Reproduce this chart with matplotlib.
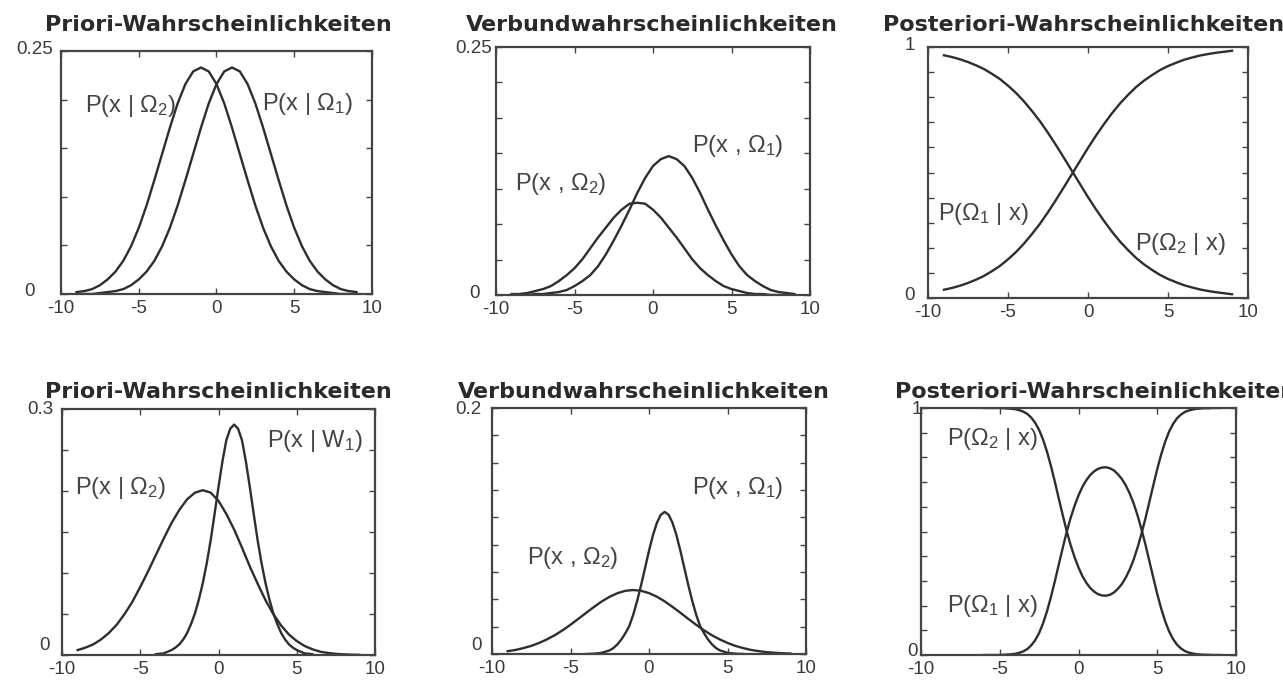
import numpy as np
import matplotlib
matplotlib.use("Agg")
import matplotlib.pyplot as plt

plt.rcParams["font.family"] = ["Liberation Sans", "DejaVu Sans"]
plt.rcParams["mathtext.fontset"] = "custom"
plt.rcParams["mathtext.rm"] = "Liberation Sans"
plt.rcParams["mathtext.it"] = "Liberation Sans"

W, H = 1283, 681

x = np.arange(-9, 9.5, 0.5)            # wide curves, every 0.5
x_narrow = np.arange(-4, 6.25, 0.25)   # narrow peaks, every 0.25
x_br = np.arange(-6, 9.25, 0.25)       # lower right posteriors, every 0.25

# --- top row: equal variances ---
tl_cond2 = [0.002, 0.003, 0.005, 0.009, 0.015, 0.023, 0.034, 0.049, 0.068, 0.091,
            0.117, 0.144, 0.171, 0.196, 0.216, 0.229, 0.233, 0.229, 0.216, 0.196,
            0.171, 0.144, 0.117, 0.091, 0.068, 0.049, 0.034, 0.023, 0.015, 0.009,
            0.005, 0.003, 0.002, 0.001, 0.000, 0.000, 0.000]
tl_cond1 = [0.000, 0.000, 0.000, 0.001, 0.002, 0.003, 0.005, 0.009, 0.015, 0.023,
            0.034, 0.049, 0.068, 0.091, 0.117, 0.144, 0.171, 0.196, 0.216, 0.229,
            0.233, 0.229, 0.216, 0.196, 0.171, 0.144, 0.117, 0.091, 0.068, 0.049,
            0.034, 0.023, 0.015, 0.009, 0.005, 0.003, 0.002]

tm_joint2 = [0.001, 0.001, 0.002, 0.004, 0.006, 0.009, 0.014, 0.020, 0.027, 0.036,
             0.047, 0.058, 0.068, 0.078, 0.086, 0.092, 0.093, 0.092, 0.086, 0.078,
             0.068, 0.058, 0.047, 0.036, 0.027, 0.020, 0.014, 0.009, 0.006, 0.004,
             0.002, 0.001, 0.001, 0.000, 0.000, 0.000, 0.000]
tm_joint1 = [0.000, 0.000, 0.000, 0.001, 0.001, 0.002, 0.003, 0.005, 0.009, 0.014,
             0.020, 0.029, 0.041, 0.055, 0.070, 0.086, 0.103, 0.118, 0.130, 0.137,
             0.140, 0.137, 0.130, 0.118, 0.103, 0.086, 0.070, 0.055, 0.041, 0.029,
             0.020, 0.014, 0.009, 0.005, 0.003, 0.002, 0.001]

tr_post1 = [0.033, 0.040, 0.049, 0.060, 0.073, 0.088, 0.107, 0.128, 0.154, 0.183,
            0.217, 0.255, 0.296, 0.342, 0.391, 0.442, 0.494, 0.546, 0.598, 0.647,
            0.693, 0.736, 0.775, 0.809, 0.840, 0.866, 0.888, 0.908, 0.924, 0.937,
            0.949, 0.958, 0.966, 0.972, 0.977, 0.981, 0.985]
tr_post2 = [0.967, 0.960, 0.951, 0.940, 0.927, 0.912, 0.893, 0.872, 0.846, 0.817,
            0.783, 0.745, 0.704, 0.658, 0.609, 0.558, 0.506, 0.454, 0.402, 0.353,
            0.307, 0.264, 0.225, 0.191, 0.160, 0.134, 0.112, 0.092, 0.076, 0.063,
            0.051, 0.042, 0.034, 0.028, 0.023, 0.019, 0.015]

# --- bottom row: unequal variances ---
bl_cond2 = [0.006, 0.009, 0.013, 0.019, 0.027, 0.037, 0.050, 0.065, 0.083, 0.102,
            0.122, 0.142, 0.161, 0.177, 0.190, 0.198, 0.201, 0.198, 0.188, 0.172,
            0.153, 0.131, 0.108, 0.087, 0.067, 0.050, 0.036, 0.025, 0.017, 0.011,
            0.007, 0.004, 0.0025, 0.0014, 0.0008, 0.0004, 0.0002]
bl_cond1 = [0.001, 0.0015, 0.002, 0.004, 0.006, 0.009, 0.013, 0.019, 0.027, 0.038,
            0.051, 0.068, 0.088, 0.112, 0.140, 0.172, 0.205, 0.236, 0.262, 0.276,
            0.281, 0.276, 0.262, 0.236, 0.205, 0.172, 0.140, 0.112, 0.088, 0.068,
            0.051, 0.038, 0.027, 0.019, 0.013, 0.009, 0.006, 0.004, 0.002, 0.0015,
            0.001]

bm_joint2 = [0.0023, 0.0033, 0.0048, 0.0066, 0.0090, 0.0119, 0.0153, 0.0193, 0.0238, 0.0286,
             0.0335, 0.0383, 0.0428, 0.0466, 0.0495, 0.0514, 0.0520, 0.0514, 0.0495, 0.0466,
             0.0428, 0.0383, 0.0335, 0.0286, 0.0238, 0.0193, 0.0153, 0.0119, 0.0090, 0.0066,
             0.0048, 0.0033, 0.0023, 0.0015, 0.0010, 0.0006, 0.0004]
bm_joint1 = [0.0, 0.0001, 0.0003, 0.0006, 0.001, 0.002, 0.003, 0.005, 0.008, 0.012,
             0.017, 0.0229, 0.0321, 0.0434, 0.0562, 0.0700, 0.0839, 0.0965, 0.1066, 0.1132,
             0.1155, 0.1132, 0.1066, 0.0965, 0.0839, 0.0700, 0.0562, 0.0434, 0.0321, 0.0229,
             0.017, 0.012, 0.008, 0.005, 0.003, 0.002, 0.001, 0.0006, 0.0003, 0.0001,
             0.0]

br_post1 = [0.000, 0.000, 0.000, 0.000, 0.000, 0.001, 0.002, 0.003, 0.005, 0.009,
            0.015, 0.024, 0.039, 0.060, 0.089, 0.128, 0.177, 0.235, 0.299, 0.367,
            0.434, 0.498, 0.555, 0.604, 0.646, 0.681, 0.708, 0.729, 0.744, 0.754,
            0.759, 0.760, 0.756, 0.747, 0.732, 0.713, 0.687, 0.654, 0.614, 0.565,
            0.509, 0.447, 0.380, 0.313, 0.247, 0.188, 0.137, 0.096, 0.065, 0.042,
            0.027, 0.016, 0.010, 0.006, 0.003, 0.002, 0.001, 0.001, 0.000, 0.000,
            0.000]
br_post2 = [1.000, 1.000, 1.000, 1.000, 1.000, 0.999, 0.998, 0.997, 0.995, 0.991,
            0.985, 0.976, 0.961, 0.940, 0.911, 0.872, 0.823, 0.765, 0.701, 0.633,
            0.566, 0.502, 0.445, 0.396, 0.354, 0.319, 0.292, 0.271, 0.256, 0.246,
            0.241, 0.240, 0.244, 0.253, 0.268, 0.287, 0.313, 0.346, 0.386, 0.435,
            0.491, 0.553, 0.620, 0.687, 0.753, 0.812, 0.863, 0.904, 0.935, 0.958,
            0.973, 0.984, 0.990, 0.994, 0.997, 0.998, 0.999, 0.999, 1.000, 1.000,
            1.000]

titles = ["Priori-Wahrscheinlichkeiten", "Verbundwahrscheinlichkeiten",
          "Posteriori-Wahrscheinlichkeiten", "Priori-Wahrscheinlichkeiten",
          "Verbundwahrscheinlichkeiten", "Posteriori-Wahrscheinlichkeiten"]
ymax = [0.25, 0.25, 1, 0.3, 0.2, 1]
ymax_lbl = ["0.25", "0.25", "1", "0.3", "0.2", "1"]
n_yticks = [6, 8, 11, 7, 10, 11]
series = [[(x, tl_cond2), (x, tl_cond1)],
          [(x, tm_joint2), (x, tm_joint1)],
          [(x, tr_post1), (x, tr_post2)],
          [(x, bl_cond2), (x_narrow, bl_cond1)],
          [(x, bm_joint2), (x_narrow, bm_joint1)],
          [(x_br, br_post1), (x_br, br_post2)]]

curve_labels = [
    [("P(x | $\\Omega_2$)", 85, 112), ("P(x | $\\Omega_1$)", 262, 110)],
    [("P(x , $\\Omega_1$)", 692, 152), ("P(x , $\\Omega_2$)", 515, 190)],
    [("P($\\Omega_1$ | x)", 938, 220), ("P($\\Omega_2$ | x)", 1135, 250)],
    [("P(x | W$_1$)", 267, 447), ("P(x | $\\Omega_2$)", 75, 494)],
    [("P(x , $\\Omega_1$)", 692, 494), ("P(x , $\\Omega_2$)", 527, 564)],
    [("P($\\Omega_2$ | x)", 947, 445), ("P($\\Omega_1$ | x)", 947, 612)],
]

# axes boxes in pixels: left, top, right, bottom
boxes = [(61, 51, 372, 294), (496, 47, 810, 295), (928, 47, 1248, 298),
         (62, 409, 375, 655), (492, 408, 806, 654), (921, 408, 1236, 655)]
title_pos = [(218, 31), (652, 31), (1084, 31), (218, 398), (644, 398), (1096, 398)]
# y label offsets (dx, dy) in pixels for top label and zero label
ylab_off = [((-8, 1), (-26, 2)), ((-4, -1), (-16, 2)), ((-13, 2), (-13, 3)),
            ((-9, 0), (-12, 9)), ((-10, -1), (-10, 9)), ((1, -1), (-3, 4))]

line_c = "#2e2e2e"
text_c = "#3a3a3a"

fig = plt.figure(figsize=(W / 100, H / 100), dpi=100)

for i in range(6):
    l, t, r, b = boxes[i]
    ax = fig.add_axes([l / W, 1 - b / H, (r - l) / W, (b - t) / H])
    for xs, ys in series[i]:
        ax.plot(xs, ys, color=line_c, lw=1.7, solid_joinstyle="round")
    ax.set_xlim(-10, 10)
    ax.set_ylim(0, ymax[i])
    ax.set_xticks([-10, -5, 0, 5, 10])
    ax.set_xticklabels(["-10", "-5", "0", "5", "10"])
    ax.set_yticks(np.linspace(0, ymax[i], n_yticks[i]))
    ax.set_yticklabels([])
    ax.tick_params(direction="in", top=True, right=True, length=4, width=1,
                   color="#444444", labelsize=13.5, labelcolor=text_c, pad=4)
    for sp in ax.spines.values():
        sp.set_color("#444444")
        sp.set_linewidth(1.6)

    (dx1, dy1), (dx0, dy0) = ylab_off[i]
    ax.annotate(ymax_lbl[i], xy=(0, ymax[i]), xycoords=("axes fraction", "data"),
                xytext=(dx1, dy1), textcoords="offset pixels", ha="right",
                va="center", fontsize=13.5, color=text_c, annotation_clip=False)
    ax.annotate("0", xy=(0, 0), xycoords=("axes fraction", "data"),
                xytext=(dx0, dy0), textcoords="offset pixels", ha="right",
                va="center", fontsize=13.5, color=text_c, annotation_clip=False)

    tx, ty = title_pos[i]
    fig.text(tx / W, 1 - ty / H, titles[i], ha="center", va="baseline",
             fontsize=16, fontweight="bold", family="DejaVu Sans", color="#2a2a2a")

    for txt, px, py in curve_labels[i]:
        fig.text(px / W, 1 - py / H, txt, ha="left", va="baseline",
                 fontsize=17, color="#444444")

fig.savefig("out.png", dpi=100, facecolor="white")
